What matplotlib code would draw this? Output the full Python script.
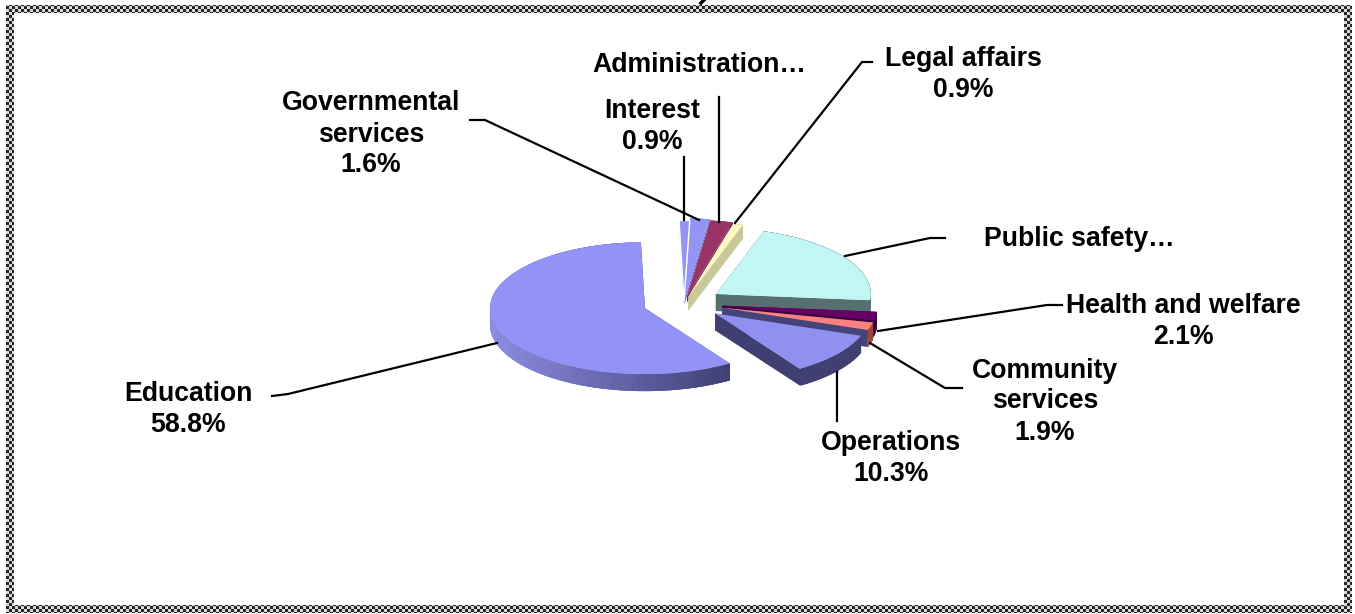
import numpy as np
import matplotlib
matplotlib.use("Agg")
import matplotlib.pyplot as plt
from matplotlib.patches import Polygon
from matplotlib.colors import to_rgb

plt.rcParams['font.family'] = ['Liberation Sans', 'DejaVu Sans']

W, H = 1355, 614

# slices, counter clockwise from the start angle
names = ["Education", "Operations", "Community services", "Health and welfare",
         "Public safety", "Legal affairs", "Administration",
         "Governmental services", "Interest"]
shares = [58.8, 10.3, 1.9, 2.1, 21.5, 0.9, 2.0, 1.6, 0.9]
explode = [0.264, 0.256, 0.255, 0.25, 0.246, 0.10, 0.10, 0.05, 0.03]
radius = [1.0, 1.0, 1.0, 1.0, 1.0, 1.14, 1.16, 1.23, 1.22]
tops = ["#9393f7", "#9090f0", "#ff8080", "#660066", "#c2f6f4",
        "#fbf8c4", "#993366", "#9494f4", "#9494f4"]
rims = ["#3f3f72", "#3f3f72", "#a04a38", "#3d003d", "#567070",
        "#c8c89a", "#5c1f3d", "#6a6ab8", "#6a6ab8"]
cuts = ["#3f3f72", "#3f3f72", "#44447a", "#3d003d", "#567070",
        "#c8c89a", "#7a2850", "#7070c0", "#7070c0"]
depth = [17, 17, 17, 17, 17, 14, 6, 4, 4]

# text labels: text, x, y in picture pixels
labels = [("Education\n58.8%", 188, 408),
          ("Operations\n10.3%", 891, 457),
          ("Community\nservices\n1.9%", 1045, 400),
          ("Health and welfare\n2.1%", 1183, 320),
          ("Public safety…", 1079, 238),
          ("Legal affairs\n0.9%", 963, 73),
          ("Administration…", 699, 64),
          ("Interest\n0.9%", 652, 125),
          ("Governmental\nservices\n1.6%", 371, 133)]

# leader lines in picture pixels
leaders = [[(272, 396), (288, 394), (497, 343)],
           [(837, 372), (837, 421)],
           [(870, 343), (945, 388), (962, 388)],
           [(878, 331), (1047, 305), (1062, 305)],
           [(845, 256), (930, 238), (945, 238)],
           [(735, 223), (862, 62), (872, 62)],
           [(719, 222), (719, 97)],
           [(684, 220), (684, 157)],
           [(699, 220), (485, 120), (470, 120)]]

rx, ry = 155.0, 66.0
cx, cy = 684.0, 303.0
start_angle = 91.5

fig = plt.figure(figsize=(W / 100, H / 100), dpi=100, facecolor="white")

# pie axes: one data unit is rx pixels across and ry pixels up, so the pie lies flat
ax = fig.add_axes([0, 0, 1, 1])
wedges, _ = ax.pie(shares, explode=explode, colors=tops, startangle=start_angle,
                   center=(cx / rx, (H - cy) / ry), radius=1.0, counterclock=True,
                   wedgeprops={"linewidth": 0})
ax.set_aspect("auto")
ax.set_xlim(0, W / rx)
ax.set_ylim(0, H / ry)
ax.axis("off")


def shade(col, amount):
    # lighter rim at left of the education slice
    a = np.array(to_rgb(col))
    b = np.array(to_rgb("#8c8ce2"))
    return tuple(a + (b - a) * amount)


order = [6, 7, 8, 5, 4, 3, 2, 0, 1]
z = 2
for i in order:
    w = wedges[i]
    w.set_radius(radius[i])
    c = np.array(w.center)
    d = depth[i] / ry
    angs = np.radians(np.linspace(w.theta1, w.theta2, 90))
    arc = np.column_stack([c[0] + w.r * np.cos(angs), c[1] + w.r * np.sin(angs)])
    # the two cut faces
    for end in (arc[0], arc[-1]):
        quad = [c, end, end - [0, d], c - [0, d]]
        ax.add_patch(Polygon(quad, closed=True, fc=cuts[i], ec="none", zorder=z))
    # rim, a strip at a time, each one overlapping the next to hide the seams
    for k in range(len(arc) - 1):
        col = rims[i]
        if i == 0:
            # left of the slice is light, right is dark
            f = (arc[-1][0] - arc[k][0]) / (arc[-1][0] - arc[:, 0].min())
            col = shade(rims[i], np.clip(f, 0, 1))
        j = min(k + 3, len(arc) - 1)
        quad = [arc[k], arc[j], arc[j] - [0, d], arc[k] - [0, d]]
        ax.add_patch(Polygon(quad, closed=True, fc=col, ec="none", zorder=z))
    w.set_zorder(z + 1)
    z += 2

# thin white gap between the interest and governmental slices
wedges[8].set_edgecolor("white")
wedges[8].set_linewidth(1.0)

# overlay in picture pixels for the labels, leader lines and frame
ov = fig.add_axes([0, 0, 1, 1], facecolor="none")
ov.set_xlim(0, W)
ov.set_ylim(H, 0)
ov.axis("off")

for pts in leaders:
    xs, ys = zip(*pts)
    ov.plot(xs, ys, color="black", lw=1.6, solid_joinstyle="miter", zorder=20)

for txt, x, y in labels:
    ov.text(x, y + 1.5, txt, ha="center", va="center", fontsize=19.2, fontweight="bold",
            linespacing=1.25, color="black", zorder=21)

# small mark left at the top edge
ov.plot([701, 704], [3, 0], color="black", lw=2.5, zorder=21)

# checkered frame
yy, xx = np.mgrid[0:H, 0:W]
band = np.zeros((H, W), dtype=bool)
band[5:13, 6:W - 3] = True
band[H - 9:H - 1, 6:W - 3] = True
band[5:H - 1, 6:14] = True
band[5:H - 1, W - 11:W - 3] = True
check = ((xx // 3 + yy // 3) % 2).astype(float)
rgba = np.ones((H, W, 4))
rgba[..., :3] = (0.15 + 0.7 * check)[..., None]
rgba[..., 3] = band
ov.imshow(rgba, extent=(0, W, H, 0), interpolation="nearest", aspect="auto", zorder=22)
ov.set_xlim(0, W)
ov.set_ylim(H, 0)

fig.savefig("out.png", dpi=100, facecolor="white")
